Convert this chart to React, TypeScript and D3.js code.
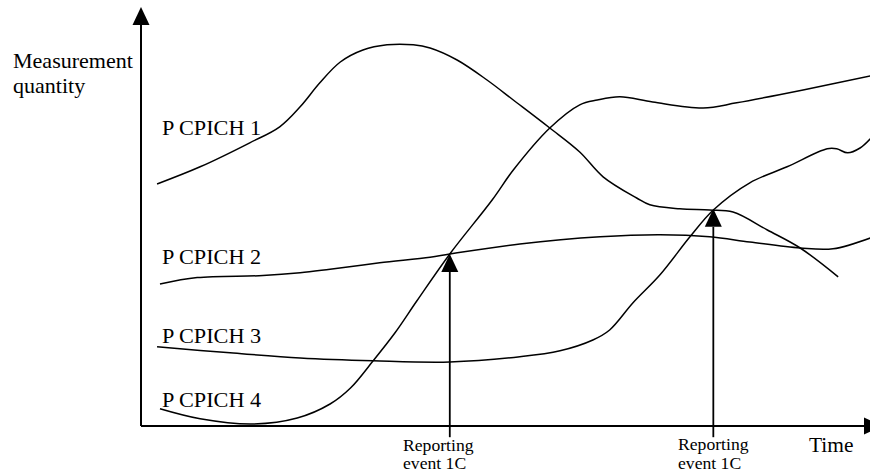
import * as d3 from 'd3';

const pcpich1: [number, number][] = [
  [2.2, 60.5], [8.1, 64.8], [14.9, 70.8], [19.0, 74.8], [21.8, 79.8], [24.5, 85.8],
  [27.3, 91], [30.4, 94], [33.7, 95.3], [37.3, 95.3], [39.6, 94.5], [43.3, 91.5],
  [47.4, 86.5], [51.0, 81.5], [56.0, 74.5], [60.1, 68.5], [63.3, 62.3], [67.9, 57],
  [69.7, 55.3], [73.8, 54.3], [77.9, 54], [81.1, 53.5], [85.8, 49], [90.3, 44.5], [95.5, 37.3],
];

const pcpich2: [number, number][] = [
  [2.6, 35.5], [7.7, 37.1], [16.7, 37.6], [21.8, 38.3], [25.9, 39.2], [32.7, 40.8],
  [39.6, 42.2], [42.3, 43], [51.9, 45.5], [62.9, 47.3], [71.1, 47.8], [77.9, 47.3],
  [83.4, 46], [90.3, 44.5], [94.8, 44.3], [99.9, 47],
];

const pcpich3: [number, number][] = [
  [2.2, 19.8], [12.2, 18.3], [21.8, 17], [31.8, 16.3], [42.3, 16], [51.9, 17.3],
  [57.4, 18.8], [61.9, 21.5], [64.2, 24], [67.4, 30.8], [71.1, 37.8], [75.2, 47.3],
  [78.4, 54], [83.4, 60.8], [88.5, 64.8], [94.0, 69.3], [95.3, 69.3], [96.8, 68.3],
  [98.5, 69.5], [99.9, 71.8],
];

const pcpich4: [number, number][] = [
  [2.6, 4.3], [8.1, 1.8], [15.3, 0.5], [21.4, 2], [25.9, 5.5], [28.7, 9.5],
  [31.8, 16.3], [34.8, 23.3], [37.8, 31.3], [42.3, 43], [48.1, 56.5], [51.0, 64], [56.0, 74.5],
  [60.1, 80.3], [62.5, 81.5], [65.6, 82.3], [70.1, 81], [77.0, 79.5], [81.6, 80.8],
  [90.7, 84], [99.9, 87.5],
];

const seriesLabels = [
  { name: 'P CPICH 1', t: 3, v: 72.75 },
  { name: 'P CPICH 2', t: 3, v: 40.5 },
  { name: 'P CPICH 3', t: 3, v: 20.75 },
  { name: 'P CPICH 4', t: 3, v: 4.75 },
];

// reporting events: time and value where the arrow points
const events = [
  { t: 42.3, v: 43 },
  { t: 78.4, v: 54.3 },
];

const W = 870;
const H = 473;
const SX = 1.06; // the original text is a bit wider than the font

export default function App() {
  const x = d3.scaleLinear().domain([0, 100]).range([141, 871]);
  const y = d3.scaleLinear().domain([0, 100]).range([426, 26]);

  const line = d3.line<[number, number]>()
    .x(d => x(d[0]))
    .y(d => y(d[1]))
    .curve(d3.curveCatmullRom.alpha(0.5));

  const x0 = x(0);
  const y0 = y(0);
  const head = 18;
  const hw = 8.5;

  const label = (txt: string, px: number, py: number, size: number, sx = SX) => (
    <text
      key={txt + px + py}
      transform={`translate(${px},${py}) scale(${sx},1)`}
      fontSize={size}
      fontFamily="'Liberation Serif', 'Times New Roman', serif"
      fill="#000"
    >
      {txt}
    </text>
  );

  return (
    <svg width={W} height={H} style={{ position: 'absolute', left: 0, top: 0, background: '#fff' }}>
      <rect width={W} height={H} fill="#fff" />

      {/* axes */}
      <line x1={x0} y1={y0} x2={x0} y2={7 + head} stroke="#000" strokeWidth={2} />
      <path d={`M${x0},7 L${x0 - hw},${7 + head} L${x0 + hw},${7 + head} Z`} fill="#000" />
      <line x1={x0} y1={y0} x2={864} y2={y0} stroke="#000" strokeWidth={2} />
      <path d={`M${864 + head},${y0} L864,${y0 - hw} L864,${y0 + hw} Z`} fill="#000" />

      {/* curves */}
      {[pcpich1, pcpich2, pcpich3, pcpich4].map((s, i) => (
        <path key={i} d={line(s) ?? ''} fill="none" stroke="#000" strokeWidth={1.5} />
      ))}

      {/* reporting event arrows */}
      {events.map((e, i) => {
        const ex = x(e.t);
        const tip = y(e.v);
        return (
          <g key={i}>
            <line x1={ex} y1={y(-2.8)} x2={ex} y2={tip + head} stroke="#000" strokeWidth={1.8} />
            <path d={`M${ex},${tip} L${ex - hw},${tip + head} L${ex + hw},${tip + head} Z`} fill="#000" />
          </g>
        );
      })}

      {/* labels */}
      {label('Measurement', 13, 68, 21, 1.05)}
      {label('quantity', 13, 93, 21, 1.05)}
      {seriesLabels.map(l => label(l.name, x(l.t) - 1, y(l.v), 21))}
      {label('Time', 809, 452, 21, 1.02)}
      {label('Reporting', 403, 451, 16.5, 1.07)}
      {label('event 1C', 403, 469, 16.5, 1.07)}
      {label('Reporting', 678, 450, 16.5, 1.07)}
      {label('event 1C', 678, 469, 16.5, 1.07)}
    </svg>
  );
}
